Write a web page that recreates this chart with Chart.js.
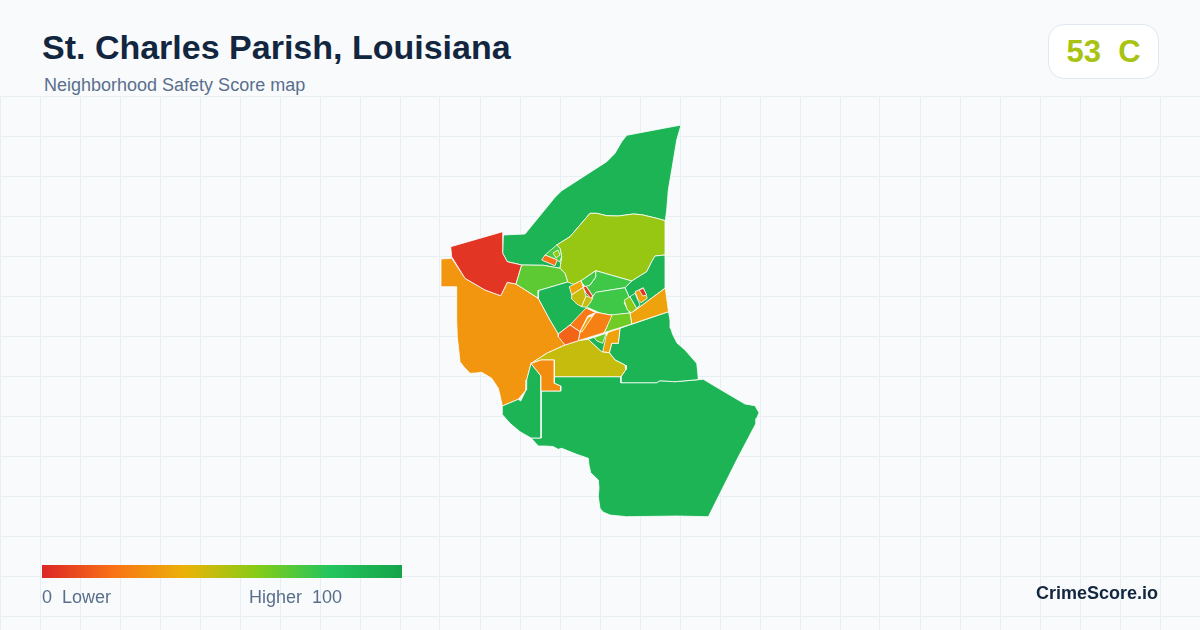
<!DOCTYPE html>
<html lang="en">
<head>
    <meta charset="UTF-8">
    <title>St. Charles Parish, Louisiana</title>
    <script src="https://cdn.jsdelivr.net/npm/chart.js"></script>
    <style>
        * { margin: 0; padding: 0; box-sizing: border-box; }
        body { width: 1200px; height: 630px; overflow: hidden; position: relative; background: #f8fafc; font-family: 'Liberation Sans', Arial, sans-serif; }
        #map { position: absolute; left: 0; top: 96px; }
        .title { position: absolute; left: 42px; top: 28px; font-size: 34px; font-weight: bold; color: #12263f; white-space: pre; }
        .subtitle { position: absolute; left: 44px; top: 75px; font-size: 18px; color: #5a6f8c; white-space: pre; }
        .badge { position: absolute; left: 1048px; top: 24px; width: 111px; height: 55px; background: #fff; border: 1px solid #e2e8f0; border-radius: 16px; text-align: center; font-size: 31px; line-height: 53px; font-weight: bold; color: #a8c311; white-space: pre; }
        .bar { position: absolute; left: 42px; top: 565px; width: 360px; height: 13px; background: linear-gradient(90deg, #dc2626 0%, #f97316 20%, #eab308 40%, #84cc16 60%, #22c55e 80%, #16a34a 100%); }
        .low, .high { position: absolute; top: 587px; font-size: 18px; color: #5a6f8c; white-space: pre; }
        .low { left: 42px; }
        .high { left: 249px; }
        .brand { position: absolute; left: 1036px; top: 583px; font-size: 18px; font-weight: bold; color: #12263f; white-space: pre; }
    </style>
</head>
<body>
    <canvas id="map" width="1200" height="534"></canvas>
    <div class="title">St. Charles Parish, Louisiana</div>
    <div class="subtitle">Neighborhood Safety Score map</div>
    <div class="badge">53  C</div>
    <div class="bar"></div>
    <div class="low">0  Lower</div>
    <div class="high">Higher  100</div>
    <div class="brand">CrimeScore.io</div>

    <script>
        // grid ticks, in map units
        const gridX = [0, 40, 80, 120, 160, 200, 240, 280, 320, 360, 400, 440, 480, 520, 560, 600, 640, 680, 720, 760, 800, 840, 880, 920, 960, 1000, 1040, 1080, 1120, 1160];
        const gridY = [96, 136, 176, 216, 256, 296, 336, 376, 416, 456, 496, 536, 576, 616];

        // boundaries, in map units, painted in this order
        const westArea = [[441,259],[451.7,258.3],[465,278.3],[485,290],[500.7,295.7],[507.3,282.3],[516,284],[538.3,298.3],[550,320],[558.3,334],[565,345],[546.7,353.3],[531,363.5],[526.7,380],[526,390],[518.3,399.3],[502.3,406],[500,395],[498.3,388.3],[491.7,378.3],[481.7,372.3],[476,373],[470,373.3],[464,367],[460,361.7],[457.3,336.7],[456.7,320],[456.7,286.7],[441,286.7]];
        const northArea = [[681,125],[626.7,135.3],[621.7,141.7],[615,153.3],[606.7,161.7],[561.7,190.7],[555,197.3],[525,234],[503.3,235],[502.7,253.3],[507.3,261.7],[521.7,265],[543.3,265.3],[560,268.3],[561.7,256.7],[560,248.3],[556.7,245],[570,236.7],[590,213.3],[596.7,213.3],[606.7,215.7],[618.3,216],[633.3,214],[641.7,214.7],[656.7,218.3],[665.3,220.7],[666.7,210],[668.3,190],[671.7,170],[676.7,140]];
        const redArea = [[502.7,231.7],[450.7,246.7],[451.7,256.7],[465,278.3],[485,290],[500.7,295.7],[507.3,282.3],[516,284],[521.7,265],[507.3,261.7],[502.7,253.3]];
        const limeArea = [[590,213.3],[596.7,213.3],[606.7,215.7],[618.3,216],[633.3,214],[641.7,214.7],[656.7,218.3],[665.3,220.7],[665.3,255],[655,256],[651.7,261.7],[646.7,271.7],[631.7,281],[595.7,270.7],[580.7,281],[569.3,286.7],[567.7,282],[565,273.3],[560,268.3],[561.7,256.7],[560,248.3],[556.7,245],[570,236.7]];
        const westLime = [[521.7,265],[543.3,265.3],[560,268.3],[565,273.3],[567.7,282],[538.8,290.5],[538.3,298.3],[516,284]];
        const southArea = [[554.3,376.7],[621,376.7],[621,382.7],[656.7,382.7],[660,380.7],[675,381.7],[703.3,379.3],[718.3,388.3],[745,404],[755,405.7],[759,412.7],[756.7,418.3],[756,423.3],[736.7,460],[708.3,516.7],[676.7,516],[626.7,516.7],[610,515],[603,512],[600,508.3],[598.3,496.7],[599,488],[598.3,480],[590.7,472.7],[589,465],[588.3,458.3],[576.7,454.3],[561.7,448.3],[558.3,449.3],[553,446.5],[545,446],[538.3,446],[531,438],[541,438],[541,391],[560.7,391],[560.7,386],[554.3,383.3]];
        const swArea = [[531,363.5],[541,376],[541,438],[531,438],[520,431.7],[510,423.3],[502.7,415],[502.3,406],[518.3,399.3],[520.7,401],[526,390],[526.7,380]];
        const seArea = [[668.5,311.7],[620,328.3],[618.3,343.3],[611.7,343.3],[609.3,352.7],[615,360],[625,365],[626,369.3],[621,376.7],[621,382.7],[656.7,382.7],[660,380.7],[675,381.7],[698.3,379.6],[697.5,370],[696.7,363.3],[685,350],[677,343],[672.5,334],[670.7,328.3],[670,320]];
        const oliveArea = [[531,363.5],[546.7,353.3],[565,345],[578.3,340.7],[588.3,339.3],[601.7,351.7],[609.3,352.7],[615,360],[625,365],[626,369.3],[621,376.7],[554.3,376.7],[554.3,360],[541,360]];
        const parcelOrange = [[541,360],[554.3,360],[554.3,383.3],[560.7,386],[560.7,391],[541,391],[541,376],[531,363.5]];
        const midGreen = [[567.7,282],[538.8,290.5],[538.3,298.3],[550,320],[558.3,334],[570,325],[585,311],[592,306],[590,295],[575,285]];
        const eastGreen = [[631.7,281],[646.7,271.7],[651.7,261.7],[655,256],[665.3,255],[665.3,288],[635,310.5],[630,313],[624,303],[630,299],[625,287.7]];
        const eastBand = [[665.3,288],[668.5,311.7],[631.7,324],[630,313],[635,310.5]];
        const northCell = [[595.7,270.7],[631.7,281],[625,287.7],[597,292.3],[592.7,296],[586,286],[590,285],[595.7,277]];
        const wedgeCell = [[595.7,270.7],[580.7,281],[585,286.7],[590,285],[595.7,277]];
        const centerCell = [[595.7,292.3],[625,287.7],[630,299],[624,303],[630,313],[612,315.3],[600,313],[586,306.7],[592,298]];
        const amberCell = [[569.3,286.7],[581,280.7],[583.3,287.3],[571.7,295]];
        const oliveLeft = [[571.7,295],[583.3,287.3],[586,296.7],[581.7,306.7],[576.7,304],[571,298]];
        const oliveRight = [[586,296],[592.7,298.3],[590,303],[586.7,307.3],[581.7,306.7]];
        const redStripe = [[583.3,287.3],[586,286],[592.7,296],[590.7,298.3],[586,293]];
        const limeCell = [[624.3,300],[630,296.7],[636.7,308.3],[631.7,312.7],[627.3,310]];
        const greenSliver = [[630,296.7],[635,293.3],[640,305],[636.7,308.3]];
        const amberRing = [[635,291.7],[643.3,287.7],[647.3,298.3],[641,302.7],[638.3,300]];
        const redSpot = [[639.3,290],[643.3,288.3],[646.7,295],[642.7,296]];
        const limeBelow = [[610,315],[630,313],[631.7,324],[604,332.7],[606.7,327.3]];
        const orangeA = [[570,325],[580,331.7],[587.7,316],[595.7,312.5],[586,308]];
        const orangeB = [[595.7,312.5],[600,313],[612,315.3],[606.7,327.3],[604,332.7],[578.3,340.7],[580,331.7],[592.7,316]];
        const amberStripe = [[588,317],[592.7,316],[582,332],[580,331.7]];
        const blobRed = [[570,325],[558.3,334],[558.3,336.7],[565,345],[578.3,340.7],[580,331.7]];
        const tinyGreen = [[588.3,339.3],[606,333.3],[609,340],[602.7,351.7],[601.7,351.7]];
        const tinyLime = [[594,337.5],[606,333.3],[602.7,343.3],[597,341]];
        const amberSouth = [[608.3,332.2],[620,328.3],[618.3,343.3],[611.7,343.3],[609.3,352.7],[602.7,351.7],[606,336.7]];
        const smallGreen = [[556.7,245],[545,255],[557,260],[559.5,262],[561.7,256.7],[560,248.3]];
        const smallLime = [[553,253],[558,250],[560,255],[556,258]];
        const smallOrange = [[541.7,260],[545,255],[557.3,260],[555,265.7]];

        const shapes = [westArea, northArea, redArea, limeArea, westLime, southArea, swArea, seArea, oliveArea, parcelOrange, midGreen, eastGreen, eastBand, northCell, wedgeCell, centerCell, amberCell, oliveLeft, oliveRight, redStripe, limeCell, greenSliver, amberRing, redSpot, limeBelow, orangeA, orangeB, amberStripe, blobRed, tinyGreen, tinyLime, amberSouth, smallGreen, smallLime, smallOrange];
        const scores = [31, 90, 4, 56, 68, 90, 90, 90, 47, 28, 90, 90, 35, 74, 74, 74, 36, 47, 47, 6, 58, 90, 35, 4, 64, 22, 24, 36, 16, 90, 66, 35, 72, 58, 20];

        // same ramp as the legend bar
        const rampStops = [0, 20, 40, 60, 80, 100];
        const rampColors = [[220,38,38], [249,115,22], [234,179,8], [132,204,22], [34,197,94], [22,163,74]];

        function scoreColor(score) {
            let i = 0;
            while (i < rampStops.length - 2 && score > rampStops[i + 1]) i++;
            const t = (score - rampStops[i]) / (rampStops[i + 1] - rampStops[i]);
            const c = rampColors[i].map((v, k) => Math.round(v + (rampColors[i + 1][k] - v) * t));
            return `rgb(${c[0]}, ${c[1]}, ${c[2]})`;
        }

        // chart.js paints the lowest order last, so later shapes land on top
        const datasets = shapes.map((shape, i) => ({
            data: shape.concat([shape[0]]).map(p => ({ x: p[0], y: p[1] })),
            order: -i,
            showLine: true,
            fill: 'shape',
            backgroundColor: scoreColor(scores[i]),
            borderColor: '#ffffff',
            borderWidth: 0.8,
            borderJoinStyle: 'round',
            pointRadius: 0,
            tension: 0
        }));

        const gridStyle = { color: '#e7eff3', lineWidth: 1, drawTicks: false };

        new Chart(document.getElementById('map').getContext('2d'), {
            type: 'scatter',
            data: { datasets },
            options: {
                responsive: false,
                animation: false,
                layout: { padding: 0 },
                plugins: { legend: { display: false }, tooltip: { enabled: false } },
                scales: {
                    x: {
                        type: 'linear', min: 0, max: 1200,
                        grid: gridStyle, border: { display: false },
                        ticks: { display: false },
                        afterBuildTicks: axis => { axis.ticks = gridX.map(v => ({ value: v })); }
                    },
                    y: {
                        type: 'linear', min: 96, max: 630, reverse: true,
                        grid: gridStyle, border: { display: false },
                        ticks: { display: false },
                        afterBuildTicks: axis => { axis.ticks = gridY.map(v => ({ value: v })); }
                    }
                }
            }
        });
    </script>
</body>
</html>
